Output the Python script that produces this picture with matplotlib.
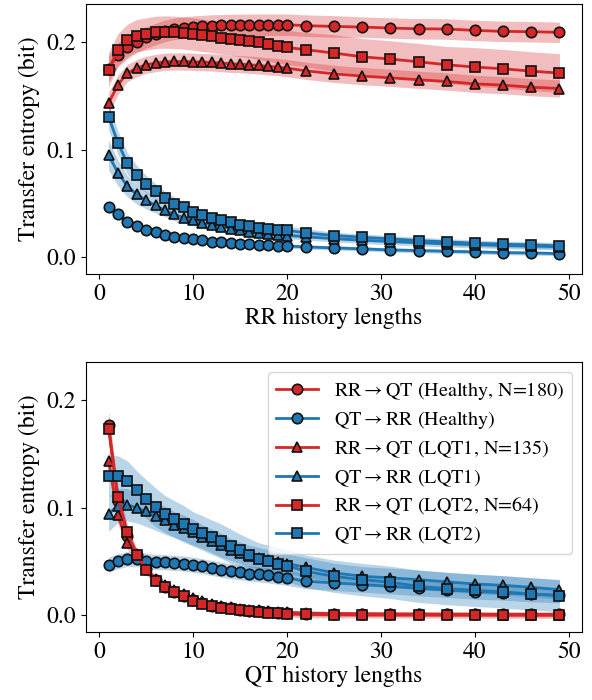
import matplotlib
matplotlib.use('Agg')
import numpy as np
import matplotlib.pyplot as plt

plt.rcParams['font.family'] = ['STIXGeneral', 'DejaVu Serif']
plt.rcParams['mathtext.fontset'] = 'stix'

red = '#d62728'
blue = '#1f77b4'

# history lengths
hist = [1, 2, 3, 4, 5, 6, 7, 8, 9, 10, 11, 12, 13, 14, 15, 16, 17, 18, 19, 20,
        22, 25, 28, 31, 34, 37, 40, 43, 46, 49]

# ---- top panel: varying RR history length ----
top_rq_healthy = [0.175, 0.188, 0.195, 0.200, 0.204, 0.207, 0.210, 0.212, 0.213, 0.214,
                  0.2145, 0.215, 0.2152, 0.2155, 0.2156, 0.2157, 0.2158, 0.2158, 0.2158, 0.2158,
                  0.2149, 0.2142, 0.2136, 0.2127, 0.2120, 0.2118, 0.2105, 0.2096, 0.2093, 0.2087]
top_rq_healthy_err = [0.012, 0.011, 0.011, 0.010, 0.010, 0.010, 0.010, 0.010, 0.010, 0.010,
                      0.010, 0.010, 0.010, 0.010, 0.010, 0.010, 0.010, 0.010, 0.010, 0.010,
                      0.010, 0.010, 0.0095, 0.0095, 0.0095, 0.0095, 0.0095, 0.0095, 0.0095, 0.0095]
top_qr_healthy = [0.0468, 0.0400, 0.0329, 0.0288, 0.0257, 0.0233, 0.0211, 0.0192, 0.0180, 0.0167,
                  0.0158, 0.0146, 0.0140, 0.0133, 0.0127, 0.0121, 0.0118, 0.0115, 0.0109, 0.0105,
                  0.0096, 0.0087, 0.0078, 0.0068, 0.0062, 0.0056, 0.0050, 0.0043, 0.0040, 0.0034]
top_qr_healthy_err = [0.005, 0.004, 0.004, 0.003, 0.003, 0.003, 0.003, 0.003, 0.002, 0.002,
                      0.002, 0.002, 0.002, 0.002, 0.002, 0.002, 0.002, 0.002, 0.002, 0.002,
                      0.002, 0.002, 0.002, 0.002, 0.002, 0.002, 0.002, 0.002, 0.002, 0.002]
top_rq_lqt1 = [0.1429, 0.1600, 0.1709, 0.1755, 0.1786, 0.1802, 0.1814, 0.1817, 0.1817, 0.1814,
               0.1811, 0.1808, 0.1802, 0.1795, 0.1792, 0.1786, 0.1780, 0.1771, 0.1765, 0.1755,
               0.1730, 0.1702, 0.1681, 0.1665, 0.1647, 0.1631, 0.1609, 0.1597, 0.1578, 0.1566]
top_rq_lqt1_err = [0.010, 0.009, 0.008, 0.008, 0.008, 0.008, 0.008, 0.008, 0.008, 0.008,
                   0.008, 0.008, 0.008, 0.008, 0.008, 0.008, 0.008, 0.008, 0.008, 0.008,
                   0.008, 0.008, 0.008, 0.008, 0.008, 0.008, 0.008, 0.008, 0.008, 0.008]
top_qr_lqt1 = [0.0949, 0.0784, 0.0660, 0.0583, 0.0530, 0.0481, 0.0437, 0.0400, 0.0369, 0.0344,
               0.0319, 0.0301, 0.0282, 0.0267, 0.0251, 0.0239, 0.0226, 0.0217, 0.0208, 0.0202,
               0.0190, 0.0172, 0.0158, 0.0146, 0.0135, 0.0125, 0.0117, 0.0110, 0.0104, 0.0098]
top_qr_lqt1_err = [0.014, 0.012, 0.010, 0.009, 0.008, 0.007, 0.006, 0.006, 0.005, 0.005,
                   0.005, 0.004, 0.004, 0.004, 0.004, 0.004, 0.003, 0.003, 0.003, 0.003,
                   0.003, 0.003, 0.003, 0.003, 0.003, 0.003, 0.003, 0.003, 0.003, 0.003]
top_rq_lqt2 = [0.1740, 0.1926, 0.2012, 0.2056, 0.2071, 0.2087, 0.2090, 0.2087, 0.2081, 0.2071,
               0.2059, 0.2050, 0.2034, 0.2025, 0.2012, 0.2003, 0.1994, 0.1978, 0.1963, 0.1947,
               0.1926, 0.1895, 0.1860, 0.1839, 0.1814, 0.1786, 0.1765, 0.1749, 0.1727, 0.1709]
top_rq_lqt2_err = [0.016, 0.015, 0.015, 0.015, 0.015, 0.015, 0.015, 0.015, 0.015, 0.015,
                   0.015, 0.015, 0.015, 0.015, 0.015, 0.015, 0.016, 0.016, 0.016, 0.016,
                   0.016, 0.017, 0.017, 0.017, 0.017, 0.017, 0.018, 0.018, 0.018, 0.018]
top_qr_lqt2 = [0.1305, 0.1063, 0.0871, 0.0763, 0.0679, 0.0614, 0.0552, 0.0499, 0.0462, 0.0422,
               0.0391, 0.0366, 0.0344, 0.0323, 0.0304, 0.0288, 0.0276, 0.0267, 0.0257, 0.0251,
               0.0226, 0.0202, 0.0186, 0.0171, 0.0155, 0.0143, 0.0130, 0.0121, 0.0115, 0.0105]
top_qr_lqt2_err = [0.012, 0.011, 0.010, 0.009, 0.008, 0.007, 0.006, 0.006, 0.005, 0.005,
                   0.005, 0.005, 0.004, 0.004, 0.004, 0.004, 0.004, 0.004, 0.004, 0.004,
                   0.004, 0.003, 0.003, 0.003, 0.003, 0.003, 0.003, 0.003, 0.003, 0.003]

# ---- bottom panel: varying QT history length ----
bot_rq_healthy = [0.1770, 0.1060, 0.0740, 0.0560, 0.0425, 0.0328, 0.0266, 0.0220, 0.0182, 0.0142,
                  0.0115, 0.0090, 0.0075, 0.0065, 0.0052, 0.0043, 0.0036, 0.0028, 0.0024, 0.0018,
                  0.0014, 0.0012, 0.0011, 0.0010, 0.0010, 0.0009, 0.0009, 0.0008, 0.0008, 0.0008]
bot_rq_healthy_err = [0.012, 0.009, 0.006, 0.005, 0.004, 0.003, 0.003, 0.003, 0.002, 0.002,
                      0.002, 0.002, 0.002, 0.002, 0.002, 0.002, 0.002, 0.002, 0.002, 0.002,
                      0.002, 0.002, 0.002, 0.002, 0.002, 0.002, 0.002, 0.002, 0.002, 0.002]
bot_qr_healthy = [0.0470, 0.0501, 0.0523, 0.0523, 0.0507, 0.0495, 0.0492, 0.0486, 0.0480, 0.0470,
                  0.0455, 0.0439, 0.0424, 0.0408, 0.0399, 0.0387, 0.0380, 0.0370, 0.0358, 0.0347,
                  0.0316, 0.0300, 0.0285, 0.0269, 0.0250, 0.0235, 0.0220, 0.0210, 0.0195, 0.0185]
bot_qr_healthy_err = [0.007, 0.007, 0.007, 0.007, 0.007, 0.007, 0.007, 0.007, 0.007, 0.007,
                      0.007, 0.007, 0.007, 0.007, 0.007, 0.007, 0.007, 0.007, 0.007, 0.007,
                      0.007, 0.007, 0.007, 0.007, 0.007, 0.007, 0.007, 0.007, 0.007, 0.007]
bot_rq_lqt1 = [0.1430, 0.0930, 0.0670, 0.0570, 0.0430, 0.0340, 0.0280, 0.0235, 0.0195, 0.0160,
               0.0130, 0.0105, 0.0088, 0.0075, 0.0063, 0.0053, 0.0045, 0.0038, 0.0032, 0.0027,
               0.0020, 0.0015, 0.0012, 0.0010, 0.0009, 0.0008, 0.0008, 0.0007, 0.0007, 0.0006]
bot_rq_lqt1_err = [0.010, 0.008, 0.006, 0.005, 0.004, 0.003, 0.003, 0.003, 0.002, 0.002,
                   0.002, 0.002, 0.002, 0.002, 0.002, 0.002, 0.002, 0.002, 0.002, 0.002,
                   0.002, 0.002, 0.002, 0.002, 0.002, 0.002, 0.002, 0.002, 0.002, 0.002]
bot_qr_lqt1 = [0.0940, 0.1018, 0.1027, 0.0996, 0.0965, 0.0918, 0.0881, 0.0841, 0.0810, 0.0770,
               0.0730, 0.0690, 0.0650, 0.0610, 0.0580, 0.0550, 0.0530, 0.0510, 0.0490, 0.0480,
               0.0445, 0.0393, 0.0362, 0.0347, 0.0331, 0.0310, 0.0291, 0.0278, 0.0260, 0.0238]
bot_qr_lqt1_err = [0.016, 0.016, 0.015, 0.014, 0.014, 0.013, 0.013, 0.012, 0.012, 0.012,
                   0.011, 0.011, 0.011, 0.010, 0.010, 0.010, 0.010, 0.010, 0.010, 0.009,
                   0.009, 0.009, 0.009, 0.009, 0.009, 0.009, 0.009, 0.009, 0.009, 0.009]
bot_rq_lqt2 = [0.1729, 0.1095, 0.0770, 0.0563, 0.0418, 0.0322, 0.0260, 0.0213, 0.0176, 0.0136,
               0.0109, 0.0083, 0.0069, 0.0059, 0.0046, 0.0037, 0.0031, 0.0022, 0.0019, 0.0013,
               0.0008, 0.0006, 0.0005, 0.0004, 0.0004, 0.0003, 0.0003, 0.0003, 0.0002, 0.0002]
bot_rq_lqt2_err = [0.014, 0.010, 0.007, 0.005, 0.004, 0.004, 0.003, 0.003, 0.003, 0.003,
                   0.003, 0.003, 0.003, 0.003, 0.003, 0.003, 0.003, 0.003, 0.003, 0.003,
                   0.003, 0.003, 0.003, 0.003, 0.003, 0.003, 0.003, 0.003, 0.003, 0.003]
bot_qr_lqt2 = [0.1296, 0.1290, 0.1243, 0.1160, 0.1080, 0.1002, 0.0940, 0.0894, 0.0848, 0.0801,
               0.0764, 0.0724, 0.0687, 0.0640, 0.0603, 0.0563, 0.0523, 0.0501, 0.0480, 0.0460,
               0.0408, 0.0362, 0.0331, 0.0306, 0.0269, 0.0248, 0.0232, 0.0217, 0.0198, 0.0183]
bot_qr_lqt2_err = [0.019, 0.019, 0.019, 0.018, 0.018, 0.018, 0.017, 0.017, 0.017, 0.016,
                   0.016, 0.016, 0.016, 0.016, 0.015, 0.015, 0.015, 0.015, 0.015, 0.015,
                   0.015, 0.015, 0.015, 0.015, 0.015, 0.015, 0.015, 0.015, 0.015, 0.015]

labels = [r'RR$\rightarrow$QT (Healthy, N=180)', r'QT$\rightarrow$RR (Healthy)',
          r'RR$\rightarrow$QT (LQT1, N=135)', r'QT$\rightarrow$RR (LQT1)',
          r'RR$\rightarrow$QT (LQT2, N=64)', r'QT$\rightarrow$RR (LQT2)']
colors = [red, blue, red, blue, red, blue]
markers = ['o', 'o', '^', '^', 's', 's']

top = [(top_rq_healthy, top_rq_healthy_err), (top_qr_healthy, top_qr_healthy_err),
       (top_rq_lqt1, top_rq_lqt1_err), (top_qr_lqt1, top_qr_lqt1_err),
       (top_rq_lqt2, top_rq_lqt2_err), (top_qr_lqt2, top_qr_lqt2_err)]
bot = [(bot_rq_healthy, bot_rq_healthy_err), (bot_qr_healthy, bot_qr_healthy_err),
       (bot_rq_lqt1, bot_rq_lqt1_err), (bot_qr_lqt1, bot_qr_lqt1_err),
       (bot_rq_lqt2, bot_rq_lqt2_err), (bot_qr_lqt2, bot_qr_lqt2_err)]

fig, axes = plt.subplots(2, 1, figsize=(5.92, 7.0), dpi=100)
fig.subplots_adjust(left=86/592, right=582/592, top=1-4/700, bottom=1-632/700, hspace=0.326)

x = np.array(hist)
for ax, series, xlab in [(axes[0], top, 'RR history lengths'), (axes[1], bot, 'QT history lengths')]:
    for (m, e), c, mk, lab in zip(series, colors, markers, labels):
        m = np.array(m); e = np.array(e)
        ax.fill_between(x, m - e, m + e, color=c, alpha=0.3, lw=0)
        ax.plot(x, m, color=c, lw=2, marker=mk, ms=7.5, mec='#111111', mew=1.2, label=lab)
    ax.set_ylim(-0.0155, 0.235)
    ax.set_xlim(-1.4, 51.4)
    ax.set_xticks([0, 10, 20, 30, 40, 50])
    ax.set_yticks([0.0, 0.1, 0.2])
    ax.tick_params(labelsize=17)
    ax.set_xlabel(xlab, fontsize=17, labelpad=2)
    ax.set_ylabel('Transfer entropy (bit)', fontsize=17, labelpad=5)

axes[1].legend(loc='upper right', fontsize=14.5, handlelength=2.1, labelspacing=0.36,
               borderaxespad=0.5, framealpha=0.8)

plt.savefig('out.png', dpi=100)
print("Done")
